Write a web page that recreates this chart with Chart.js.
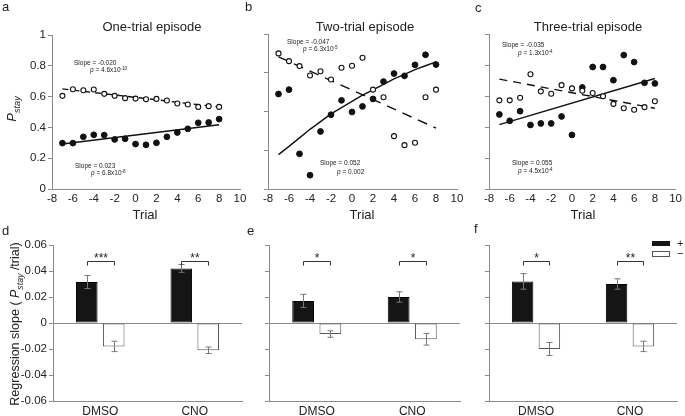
<!DOCTYPE html>
<html>
<head>
<meta charset="utf-8">
<script src="https://cdn.jsdelivr.net/npm/chart.js@4.4.1/dist/chart.umd.min.js"></script>
<style>
  body { margin: 0; background: #fff; }
  #wrap { position: relative; width: 685px; height: 416px; }
  #wrap canvas { position: absolute; left: 0; top: 0; }
</style>
</head>
<body>
<div id="wrap">
  <canvas id="ca" width="685" height="416"></canvas>
  <canvas id="cb" width="685" height="416"></canvas>
  <canvas id="cc" width="685" height="416"></canvas>
  <canvas id="cd" width="685" height="416"></canvas>
  <canvas id="ce" width="685" height="416"></canvas>
  <canvas id="cf" width="685" height="416"></canvas>
</div>
<script>
// trials relative to the episode
var trials = [-7, -6, -5, -4, -3, -2, -1, 0, 1, 2, 3, 4, 5, 6, 7, 8];

// P(stay), filled = "+" , open = "-"
var oneTrialPlus    = [0.298, 0.298, 0.339, 0.352, 0.350, 0.322, 0.326, 0.292, 0.287, 0.300, 0.339, 0.367, 0.391, 0.430, 0.432, 0.454];
var oneTrialMinus   = [0.605, 0.648, 0.641, 0.646, 0.618, 0.605, 0.590, 0.587, 0.583, 0.585, 0.575, 0.555, 0.549, 0.533, 0.538, 0.533];
var twoTrialPlus    = [0.613, 0.641, 0.227, 0.089, 0.371, 0.479, 0.572, 0.497, 0.533, 0.581, 0.693, 0.745, 0.730, 0.801, 0.866, 0.803];
var twoTrialMinus   = [0.875, 0.825, 0.793, 0.732, 0.760, 0.706, 0.782, 0.795, 0.847, 0.641, 0.592, 0.341, 0.283, 0.298, 0.592, 0.641];
var threeTrialPlus  = [0.481, 0.440, 0.502, 0.413, 0.423, 0.423, 0.468, 0.349, 0.655, 0.787, 0.787, 0.702, 0.864, 0.819, 0.685, 0.681];
var threeTrialMinus = [0.572, 0.572, 0.589, 0.740, 0.630, 0.615, 0.670, 0.649, 0.634, 0.619, 0.598, 0.549, 0.521, 0.511, 0.528, 0.566];

// fitted lines
var fitEnds       = [-7, 8];
var oneFitPlus    = [0.292, 0.417];
var oneFitMinus   = [0.650, 0.532];
var twoFitPlus    = [0.222, 0.275, 0.330, 0.385, 0.435, 0.485, 0.525, 0.565, 0.605, 0.640, 0.675, 0.710, 0.740, 0.770, 0.795, 0.820];
var twoFitMinus   = [0.853, 0.393];
var threeFitPlus  = [0.415, 0.713];
var threeFitMinus = [0.709, 0.521];

// regression slopes (P_stay/trial)
var groups = ['DMSO', 'CNO'];
var slopePlusD  = [0.0315, 0.042],  errPlusD  = [0.005, 0.003];
var slopeMinusD = [-0.018, -0.021], errMinusD = [0.004, 0.0025];
var slopePlusE  = [0.017, 0.020],   errPlusE  = [0.005, 0.004];
var slopeMinusE = [-0.0085, -0.0125], errMinusE = [0.0025, 0.0045];
var slopePlusF  = [0.032, 0.030],   errPlusF  = [0.006, 0.004];
var slopeMinusF = [-0.020, -0.018], errMinusF = [0.005, 0.004];
var starsD = ['***', '**'], starsE = ['*', '*'], starsF = ['*', '**'];
var bracketLevel = 0.048;

var FONT = '"Liberation Sans", Arial, sans-serif';
var AXIS = '#8a8a8a';
var INK = '#222';
Chart.defaults.font.family = FONT;
Chart.defaults.color = INK;
Chart.defaults.animation = false;
Chart.defaults.plugins.legend.display = false;
Chart.defaults.plugins.tooltip.enabled = false;

function plainTick(v) {
  return String(Number(v.toFixed(3)));
}

var extras = {};
var decor = {
  id: 'decor',
  afterDraw: function (chart) {
    var f = extras[chart.canvas.id];
    if (f) f(chart, chart.ctx);
  }
};

var errorBars = {
  id: 'errorBars',
  afterDatasetsDraw: function (chart) {
    var ctx = chart.ctx, y = chart.scales.y;
    chart.data.datasets.forEach(function (ds, i) {
      chart.getDatasetMeta(i).data.forEach(function (bar, j) {
        var v = ds.data[j], e = ds.errors[j];
        var t = y.getPixelForValue(v + e), b = y.getPixelForValue(v - e);
        var x = Math.round(bar.x) + 0.5;
        ctx.save();
        ctx.strokeStyle = '#777';
        ctx.lineWidth = 1;
        ctx.beginPath();
        ctx.moveTo(x, t); ctx.lineTo(x, b);
        ctx.moveTo(x - 3, t); ctx.lineTo(x + 3, t);
        ctx.moveTo(x - 3, b); ctx.lineTo(x + 3, b);
        ctx.stroke();
        ctx.restore();
      });
    });
  }
};

function pts(xs, ys) {
  return ys.map(function (v, i) { return { x: xs[i], y: v }; });
}

function txt(ctx, s, x, y, size, align, style) {
  ctx.font = (style || '') + ' ' + size + 'px ' + FONT;
  ctx.textAlign = align || 'left';
  ctx.textBaseline = 'middle';
  ctx.fillStyle = INK;
  ctx.fillText(s, x, y);
}

// parts: [text, mode]; mode i = italic, sup, isub = italic subscript
function rich(ctx, parts, x, y, size, measureOnly) {
  var w = 0;
  ctx.textAlign = 'left';
  ctx.textBaseline = 'alphabetic';
  ctx.fillStyle = INK;
  parts.forEach(function (p) {
    var mode = p[1] || '', sz = size, dy = 0, st = '';
    if (mode === 'i') st = 'italic ';
    if (mode === 'sup') { sz = size * 0.7; dy = -size * 0.42; }
    if (mode === 'isub') { st = 'italic '; sz = size * 0.7; dy = size * 0.28; }
    ctx.font = st + sz + 'px ' + FONT;
    if (!measureOnly) ctx.fillText(p[0], x + w, y + dy);
    w += ctx.measureText(p[0]).width;
  });
  return w;
}

function note(ctx, slope, pParts, x1, y1, x2, y2) {
  rich(ctx, [['Slope = ' + slope]], x1, y1 + 2.3, 6.5);
  rich(ctx, [['p', 'i']].concat(pParts), x2, y2 + 2.3, 6.5);
}

function boxPadding(area, yW, xH) {
  return { left: area[0] - yW, top: area[2], right: 685 - area[1], bottom: 416 - area[3] - xH };
}

function scatterPanel(id, area, plus, minus, fitPlusX, fitPlus, fitMinus, dash, yStep, yLabels) {
  new Chart(document.getElementById(id), {
    type: 'scatter',
    data: {
      datasets: [
        { data: pts(trials, minus), pointRadius: 2.5, pointBorderWidth: 1.1, borderColor: '#111', backgroundColor: '#fff' },
        { data: pts(trials, plus), pointRadius: 2.9, borderColor: '#111', backgroundColor: '#111' },
        { data: pts(fitPlusX, fitPlus), showLine: true, pointRadius: 0, borderColor: '#111', borderWidth: 1.4 },
        { data: pts(fitEnds, fitMinus), showLine: true, pointRadius: 0, borderColor: '#111', borderWidth: 1.4, borderDash: dash }
      ]
    },
    options: {
      responsive: false,
      layout: { padding: boxPadding(area, 40, 20) },
      scales: {
        x: {
          type: 'linear', min: -8, max: 10,
          afterFit: function (s) { s.height = 20; },
          ticks: { stepSize: 2, font: { size: 11.5 }, padding: 3, maxRotation: 0, callback: plainTick },
          grid: { display: false, drawTicks: false },
          border: { color: AXIS }
        },
        y: {
          min: 0, max: 1,
          afterFit: function (s) { s.width = 40; },
          ticks: { stepSize: yStep, display: yLabels, font: { size: 11.5 }, padding: 2, callback: plainTick },
          grid: { drawOnChartArea: false, tickLength: 4, color: AXIS },
          border: { color: AXIS }
        }
      }
    },
    plugins: [decor]
  });
}

function barPanel(id, area, plus, plusErr, minus, minusErr, yLabels) {
  new Chart(document.getElementById(id), {
    type: 'bar',
    data: {
      labels: groups,
      datasets: [
        { label: '+', data: plus, errors: plusErr, backgroundColor: '#151515', borderColor: '#000', borderWidth: 1, borderSkipped: false, categoryPercentage: 0.57, barPercentage: 0.8 },
        { label: '\u2212', data: minus, errors: minusErr, backgroundColor: '#fff', borderColor: '#555', borderWidth: 1, borderSkipped: false, categoryPercentage: 0.57, barPercentage: 0.8 }
      ]
    },
    options: {
      responsive: false,
      layout: { padding: boxPadding(area, 40, 15) },
      scales: {
        x: {
          afterFit: function (s) { s.height = 15; },
          ticks: { font: { size: 12 }, padding: 3 },
          grid: { display: false, drawTicks: false },
          border: { color: AXIS }
        },
        y: {
          min: -0.06, max: 0.06,
          afterFit: function (s) { s.width = 40; },
          ticks: { stepSize: 0.02, display: yLabels, font: { size: 11.5 }, padding: 2, callback: plainTick },
          grid: {
            tickLength: 4, tickColor: AXIS,
            color: function (c) { return c.tick && Math.abs(c.tick.value) < 1e-9 ? AXIS : 'rgba(0,0,0,0)'; }
          },
          border: { color: AXIS }
        }
      }
    },
    plugins: [errorBars, decor]
  });
}

function brackets(chart, ctx, stars) {
  var m0 = chart.getDatasetMeta(0), m1 = chart.getDatasetMeta(1);
  var y = Math.round(chart.scales.y.getPixelForValue(bracketLevel)) + 0.5;
  stars.forEach(function (s, j) {
    var x1 = Math.round(m0.data[j].x) + 0.5, x2 = Math.round(m1.data[j].x) + 0.5;
    ctx.save();
    ctx.strokeStyle = '#333';
    ctx.lineWidth = 1;
    ctx.beginPath();
    ctx.moveTo(x1, y + 4); ctx.lineTo(x1, y); ctx.lineTo(x2, y); ctx.lineTo(x2, y + 4);
    ctx.stroke();
    ctx.restore();
    ctx.font = '12px ' + FONT;
    ctx.textAlign = 'center';
    ctx.textBaseline = 'alphabetic';
    ctx.fillStyle = INK;
    ctx.fillText(s, (x1 + x2) / 2, y);
  });
}

extras.ca = function (chart, ctx) {
  txt(ctx, 'a', 2, 7, 13);
  txt(ctx, 'One-trial episode', 152, 27, 13, 'center');
  txt(ctx, 'Trial', 145, 215, 13, 'center');
  ctx.save();
  ctx.translate(16, 109);
  ctx.rotate(-Math.PI / 2);
  var w = rich(ctx, [['P', 'i'], ['stay', 'isub']], 0, 0, 13, true);
  rich(ctx, [['P', 'i'], ['stay', 'isub']], -w / 2, 0, 13);
  ctx.restore();
  note(ctx, '-0.020', [[' = 4.6x10'], ['-10', 'sup']], 74, 63, 90, 70);
  note(ctx, '0.023', [[' = 6.8x10'], ['-8', 'sup']], 75, 166, 91, 173);
};
extras.cb = function (chart, ctx) {
  txt(ctx, 'b', 245, 7, 13);
  txt(ctx, 'Two-trial episode', 365, 27, 13, 'center');
  txt(ctx, 'Trial', 362, 215, 13, 'center');
  note(ctx, '-0.047', [[' = 6.3x10'], ['-5', 'sup']], 287, 42, 303, 49);
  note(ctx, '0.052', [[' = 0.002']], 320, 163, 337, 172);
};
extras.cc = function (chart, ctx) {
  txt(ctx, 'c', 475, 8, 13);
  txt(ctx, 'Three-trial episode', 588, 27, 13, 'center');
  txt(ctx, 'Trial', 583, 215, 13, 'center');
  note(ctx, '-0.035', [[' = 1.3x10'], ['-4', 'sup']], 502, 45, 518, 53);
  note(ctx, '0.055', [[' = 4.5x10'], ['-4', 'sup']], 512, 163, 518, 171);
};
extras.cd = function (chart, ctx) {
  txt(ctx, 'd', 2, 231, 13);
  ctx.save();
  ctx.translate(19, 324);
  ctx.rotate(-Math.PI / 2);
  var parts = [['Regression slope ( '], ['P', 'i'], ['stay', 'isub'], [' /trial)']];
  var w = rich(ctx, parts, 0, 0, 12.5, true);
  rich(ctx, parts, -w / 2, 0, 12.5);
  ctx.restore();
  brackets(chart, ctx, starsD);
};
extras.ce = function (chart, ctx) {
  txt(ctx, 'e', 247, 231, 13);
  brackets(chart, ctx, starsE);
};
extras.cf = function (chart, ctx) {
  txt(ctx, 'f', 474, 229, 13);
  brackets(chart, ctx, starsF);
  ctx.save();
  ctx.fillStyle = '#151515';
  ctx.fillRect(652, 241, 18, 5);
  ctx.strokeStyle = '#555';
  ctx.lineWidth = 1;
  ctx.strokeRect(652.5, 251.5, 17, 5);
  ctx.restore();
  txt(ctx, chart.data.datasets[0].label, 677, 243.5, 11);
  txt(ctx, chart.data.datasets[1].label, 677, 254, 11);
};

scatterPanel('ca', [52, 240, 35, 189], oneTrialPlus, oneTrialMinus, fitEnds, oneFitPlus, oneFitMinus, [6, 5], 0.2, true);
scatterPanel('cb', [268, 457, 34, 189], twoTrialPlus, twoTrialMinus, trials, twoFitPlus, twoFitMinus, [10, 7], 0.25, false);
scatterPanel('cc', [489, 677, 34, 189], threeTrialPlus, threeTrialMinus, fitEnds, threeFitPlus, threeFitMinus, [8, 6], 0.2, false);

barPanel('cd', [53, 242, 245, 401], slopePlusD, errPlusD, slopeMinusD, errMinusD, true);
barPanel('ce', [269, 460, 245, 401], slopePlusE, errPlusE, slopeMinusE, errMinusE, false);
barPanel('cf', [489, 677, 245, 401], slopePlusF, errPlusF, slopeMinusF, errMinusF, false);
</script>
</body>
</html>
